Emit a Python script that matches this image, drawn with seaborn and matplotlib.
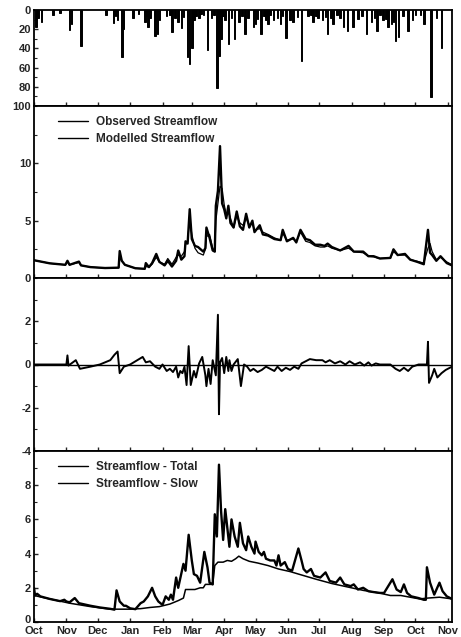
import numpy as np
import pandas as pd
import matplotlib
matplotlib.use("Agg")
import matplotlib.pyplot as plt
from matplotlib.ticker import AutoMinorLocator
from matplotlib.transforms import ScaledTranslation
import seaborn as sns

# ---------------- data (x = days since 1 Oct) ----------------
month_days = [0, 31, 61, 92, 123, 151, 182, 212, 243, 273, 304, 335, 365, 396]
month_labels = ["Oct", "Nov", "Dec", "Jan", "Feb", "Mar", "Apr", "May", "Jun",
                "Jul", "Aug", "Sep", "Oct", "Nov"]

rain_day = [2, 4, 7, 18, 25, 34, 36, 45, 69, 76, 78, 80, 84, 85, 95, 100, 106, 108,
            109, 111, 116, 118, 120, 127, 130, 132, 135, 138, 141, 143, 147, 149, 151,
            153, 155, 158, 160, 162, 166, 170, 172, 175, 177, 179, 181, 183, 186, 189,
            192, 196, 199, 202, 205, 210, 212, 214, 217, 220, 222, 224, 226, 229, 233,
            236, 238, 241, 245, 248, 252, 256, 262, 265, 267, 270, 272, 276, 279, 281,
            284, 286, 290, 293, 296, 300, 305, 310, 314, 318, 323, 326, 328, 331, 334,
            337, 339, 342, 344, 346, 349, 353, 358, 362, 365, 370, 373, 380, 385, 390]
rain_mm = [18, 8, 12, 5, 3, 21, 15, 37, 5, 14, 6, 10, 49, 20, 8, 4, 12, 6,
           18, 8, 27, 25, 10, 6, 5, 23, 8, 12, 19, 7, 49, 56, 40,
           10, 6, 8, 4, 5, 42, 8, 5, 81, 48, 30, 6, 10, 35, 8,
           30, 12, 6, 25, 8, 18, 15, 9, 25, 6, 10, 15, 5, 10, 8,
           15, 6, 29, 10, 12, 7, 53, 6, 5, 12, 6, 8, 10, 7, 25,
           8, 15, 5, 8, 18, 22, 18, 9, 6, 25, 12, 8, 22, 5, 10,
           9, 18, 15, 12, 32, 28, 6, 22, 10, 5, 5, 15, 91, 8, 40]

q_day = [0, 15, 30, 32, 34, 43, 45, 54, 68, 81, 82, 84, 87, 97, 106, 107, 110, 113,
         117, 120, 125, 128, 132, 136, 138, 141, 144, 145, 147, 149, 151, 154, 157,
         162, 164, 165, 168, 171, 173, 174, 176, 178, 180, 182, 184, 186, 188, 191,
         194, 197, 200, 203, 206, 209, 211, 216, 219, 224, 230, 236, 238, 242, 248,
         251, 255, 260, 264, 269, 274, 278, 281, 285, 293, 301, 306, 315, 320, 325,
         331, 341, 344, 348, 355, 360, 367, 373, 377, 379, 381, 385, 389, 395, 400]
q_obs = [1.55, 1.28, 1.15, 1.5, 1.15, 1.43, 1.1, 0.95, 0.87, 0.9, 2.35, 1.5, 1.15,
         0.85, 0.8, 1.3, 0.95, 1.3, 2.1, 1.4, 1.1, 1.5, 1.0, 1.5, 2.4, 1.6, 1.9, 3.2,
         3.0, 6.0, 3.4, 2.8, 2.7, 2.3, 2.6, 4.4, 3.5, 2.4, 2.3, 6.3, 7.6, 11.5, 6.5,
         6.0, 5.2, 6.3, 4.8, 4.4, 5.8, 4.5, 4.2, 5.6, 4.4, 5.0, 4.0, 4.6, 3.8, 3.7,
         3.4, 3.3, 4.2, 3.2, 3.5, 3.1, 4.2, 3.4, 3.3, 2.9, 2.9, 2.8, 3.0, 2.7, 2.4,
         2.8, 2.3, 2.3, 1.9, 1.9, 1.7, 1.75, 2.5, 2.0, 2.1, 1.6, 1.4, 1.2, 4.2, 2.2,
         2.0, 1.5, 1.9, 1.3, 1.1]
q_mod = [1.55, 1.28, 1.15, 1.45, 1.15, 1.35, 1.1, 0.95, 0.87, 0.9, 2.0, 1.5, 1.15,
         0.85, 0.8, 1.0, 0.95, 1.2, 1.8, 1.4, 1.2, 1.7, 1.2, 1.8, 2.0, 1.9, 2.3, 2.9,
         3.2, 5.2, 3.8, 2.6, 2.2, 2.0, 2.5, 3.6, 3.8, 2.6, 2.3, 5.0, 6.5, 8.0, 7.8,
         6.4, 5.5, 5.8, 5.2, 4.4, 5.4, 4.8, 4.6, 5.2, 4.6, 4.7, 4.2, 4.3, 4.0, 3.8,
         3.5, 3.3, 3.9, 3.3, 3.4, 3.2, 4.0, 3.2, 3.1, 2.8, 2.7, 2.7, 2.8, 2.6, 2.4,
         2.6, 2.3, 2.2, 1.9, 1.85, 1.7, 1.75, 2.3, 2.0, 2.0, 1.6, 1.45, 1.3, 2.6, 3.0,
         2.3, 1.6, 1.8, 1.4, 1.15]

r_day = [0, 31, 32, 33, 40, 44, 54, 63, 68, 73, 77, 80, 82, 86, 92, 104, 107, 111,
         116, 120, 123, 127, 130, 133, 136, 138, 140, 142, 144, 146, 148, 150, 153,
         155, 158, 161, 164, 165, 167, 169, 171, 174, 176, 177, 178, 180, 182, 184,
         186, 187, 189, 191, 195, 198, 201, 204, 207, 210, 214, 218, 222, 226, 230,
         233, 237, 241, 245, 249, 253, 256, 260, 264, 270, 276, 279, 283, 288, 293,
         298, 302, 307, 312, 316, 320, 323, 327, 331, 341, 346, 350, 354, 358, 362,
         368, 376, 377, 378, 381, 383, 386, 390, 394, 400]
r_val = [0, 0, 0.42, -0.05, 0.2, -0.2, -0.1, 0, 0.1, 0.2, 0.45, 0.6, -0.4, -0.1, 0,
         0.35, 0.1, 0.15, -0.1, -0.2, 0, -0.3, -0.2, -0.35, -0.1, -0.6, -0.3, -0.4,
         -0.1, -0.95, 0.85, -0.95, -0.3, -0.6, 0.05, 0.35, -0.5, -1.0, -0.2, -0.9,
         0.2, -0.5, 2.3, -2.3, 0.1, 0.3, -0.4, 0.35, -0.3, 0.2, -0.3, 0, 0.25, -1.0,
         0, -0.1, -0.3, -0.2, -0.35, -0.25, -0.1, -0.2, -0.3, -0.1, -0.3, -0.15,
         -0.25, -0.1, -0.2, 0.05, 0.15, 0.25, 0.2, 0.2, 0.1, 0.2, 0.05, 0.15, 0,
         0.15, 0, 0.1, -0.05, 0.1, -0.05, 0.05, 0, 0, -0.2, -0.3, -0.15, -0.3, -0.1,
         0, 0, 1.05, -0.85, -0.5, -0.2, -0.6, -0.4, -0.25, -0.1]

t_day = [0, 1, 3, 6, 15, 25, 29, 31, 34, 39, 43, 54, 63, 73, 77, 79, 82, 86, 88, 92,
         97, 102, 105, 109, 113, 116, 119, 123, 126, 129, 131, 133, 136, 138, 143,
         145, 148, 151, 153, 156, 159, 163, 166, 168, 171, 173, 175, 177, 179, 181,
         183, 185, 187, 189, 192, 195, 197, 200, 203, 205, 208, 211, 212, 215, 218,
         220, 222, 226, 230, 232, 234, 236, 240, 243, 247, 253, 256, 258, 261, 265,
         268, 274, 279, 283, 289, 293, 297, 303, 306, 310, 315, 320, 325, 331, 335,
         343, 347, 351, 354, 357, 361, 368, 373, 375, 376, 379, 383, 388, 391, 395,
         400]
t_total = [2.0, 1.55, 1.65, 1.5, 1.35, 1.22, 1.3, 1.2, 1.15, 1.4, 1.1, 0.95, 0.85,
           0.77, 0.72, 1.85, 1.2, 0.95, 0.95, 0.8, 0.75, 1.1, 1.2, 1.5, 2.0, 1.5, 1.2,
           1.0, 1.5, 1.3, 1.6, 1.3, 2.6, 2.0, 3.4, 3.0, 5.1, 3.6, 2.8, 2.7, 2.3, 4.1,
           3.2, 2.3, 2.2, 6.3, 5.0, 9.2, 6.5, 4.8, 6.6, 5.5, 4.4, 6.0, 5.0, 4.4, 5.8,
           4.6, 4.2, 5.0, 4.4, 4.0, 4.7, 4.1, 3.9, 4.1, 3.7, 3.6, 3.6, 3.3, 3.9, 3.3,
           3.5, 3.1, 3.0, 4.3, 3.6, 3.1, 2.9, 3.1, 2.7, 2.6, 2.9, 2.4, 2.3, 2.6, 2.2,
           2.1, 2.2, 1.9, 2.0, 1.8, 1.75, 1.7, 1.7, 2.5, 1.9, 1.75, 2.2, 1.7, 1.5, 1.4,
           1.3, 1.3, 3.2, 2.3, 1.6, 2.3, 1.8, 1.5, 1.35]

s_day = [0, 15, 34, 54, 73, 82, 92, 102, 111, 120, 130, 138, 143, 145, 154, 159, 162,
         164, 171, 173, 176, 181, 185, 189, 193, 196, 200, 206, 214, 224, 234, 245,
         256, 270, 285, 300, 315, 330, 341, 351, 360, 369, 377, 388, 400]
s_slow = [1.55, 1.35, 1.1, 0.9, 0.75, 0.75, 0.75, 0.78, 0.85, 0.9, 1.05, 1.25, 1.4,
          1.9, 1.9, 2.0, 2.0, 2.2, 2.2, 3.3, 3.5, 3.5, 3.6, 3.55, 3.7, 3.85, 3.7,
          3.55, 3.45, 3.3, 3.1, 2.95, 2.75, 2.5, 2.25, 2.05, 1.85, 1.7, 1.55, 1.55,
          1.45, 1.35, 1.4, 1.45, 1.35]

# ---------------- figure ----------------
sns.set_style("ticks")
plt.rcParams["font.family"] = ["Liberation Sans", "DejaVu Sans"]
plt.rcParams["font.weight"] = "bold"
plt.rcParams["axes.unicode_minus"] = False

W, H = 461, 637
fig = plt.figure(figsize=(W / 100, H / 100), dpi=100)
left, right = 34 / W, 452 / W
bounds = [(10, 106), (106, 278), (278, 451), (451, 622)]
axes = []
for top, bot in bounds:
    ax = fig.add_axes([left, 1 - bot / H, right - left, (bot - top) / H])
    axes.append(ax)
ax1, ax2, ax3, ax4 = axes

df_q = pd.DataFrame({"day": q_day, "obs": q_obs, "mod": q_mod})
df_r = pd.DataFrame({"day": r_day, "res": r_val})
df_t = pd.DataFrame({"day": t_day, "total": t_total})
df_s = pd.DataFrame({"day": s_day, "slow": s_slow})

# panel 1: rainfall (inverted)
ax1.bar(rain_day, rain_mm, width=1.5, color="black", edgecolor="black",
        linewidth=0.7, align="center")
ax1.set_ylim(100, 0)
ax1.set_yticks([0, 20, 40, 60, 80, 100])

# panel 2: observed vs modelled
sns.lineplot(data=df_q, x="day", y="obs", ax=ax2, color="black", lw=1.7,
             estimator=None, label="Observed Streamflow")
sns.lineplot(data=df_q, x="day", y="mod", ax=ax2, color="black", lw=0.9,
             estimator=None, label="Modelled Streamflow")
ax2.set_ylim(0, 15)
ax2.set_yticks([0, 5, 10])

# panel 3: residual
ax3.axhline(0, color="black", lw=1.0)
sns.lineplot(data=df_r, x="day", y="res", ax=ax3, color="black", lw=1.4, estimator=None)
ax3.set_ylim(-4, 4)
ax3.set_yticks([-4, -2, 0, 2])

# panel 4: total vs slow
sns.lineplot(data=df_t, x="day", y="total", ax=ax4, color="black", lw=1.7,
             estimator=None, label="Streamflow - Total")
sns.lineplot(data=df_s, x="day", y="slow", ax=ax4, color="black", lw=1.1,
             estimator=None, label="Streamflow - Slow")
ax4.set_ylim(0, 10)
ax4.set_yticks([0, 2, 4, 6, 8])

for ax in axes:
    ax.set_xlim(0, 400)
    ax.set_xticks(month_days)
    ax.set_xlabel("")
    ax.set_ylabel("")
    for sp in ax.spines.values():
        sp.set_visible(True)
        sp.set_linewidth(1.3)
        sp.set_color("black")
    ax.yaxis.set_minor_locator(AutoMinorLocator(2))
    ax.tick_params(which="major", direction="in", length=3, width=1, labelsize=8,
                   pad=2, top=False, right=False)
    ax.tick_params(which="minor", direction="in", length=2, width=0.8,
                   top=False, right=False)
    for lab in ax.get_yticklabels():
        lab.set_fontweight("bold")
    if ax is not ax4:
        ax.set_xticklabels([])
    ax.set_facecolor("white")

ax4.set_xticklabels(month_labels, fontsize=8, fontweight="bold")
ax4.tick_params(axis="x", pad=3.2)

# nudge the bottom "0" of the last panel up a little so it clears "Oct"
zero_tick = ax4.yaxis.get_major_ticks()[0]
zero_tick.label1.set_transform(zero_tick.label1.get_transform()
                               + ScaledTranslation(0, 0.03, fig.dpi_scale_trans))

for ax in (ax2, ax4):
    leg = ax.legend(loc="upper left", bbox_to_anchor=(0.04, 0.985), frameon=False,
                    handlelength=2.6, handletextpad=0.6, labelspacing=0.45,
                    prop={"size": 8.5, "weight": "bold"}, borderaxespad=0.2)
    for line in leg.get_lines():
        line.set_linewidth(1.0)

fig.savefig("out.png", dpi=100, facecolor="white")
